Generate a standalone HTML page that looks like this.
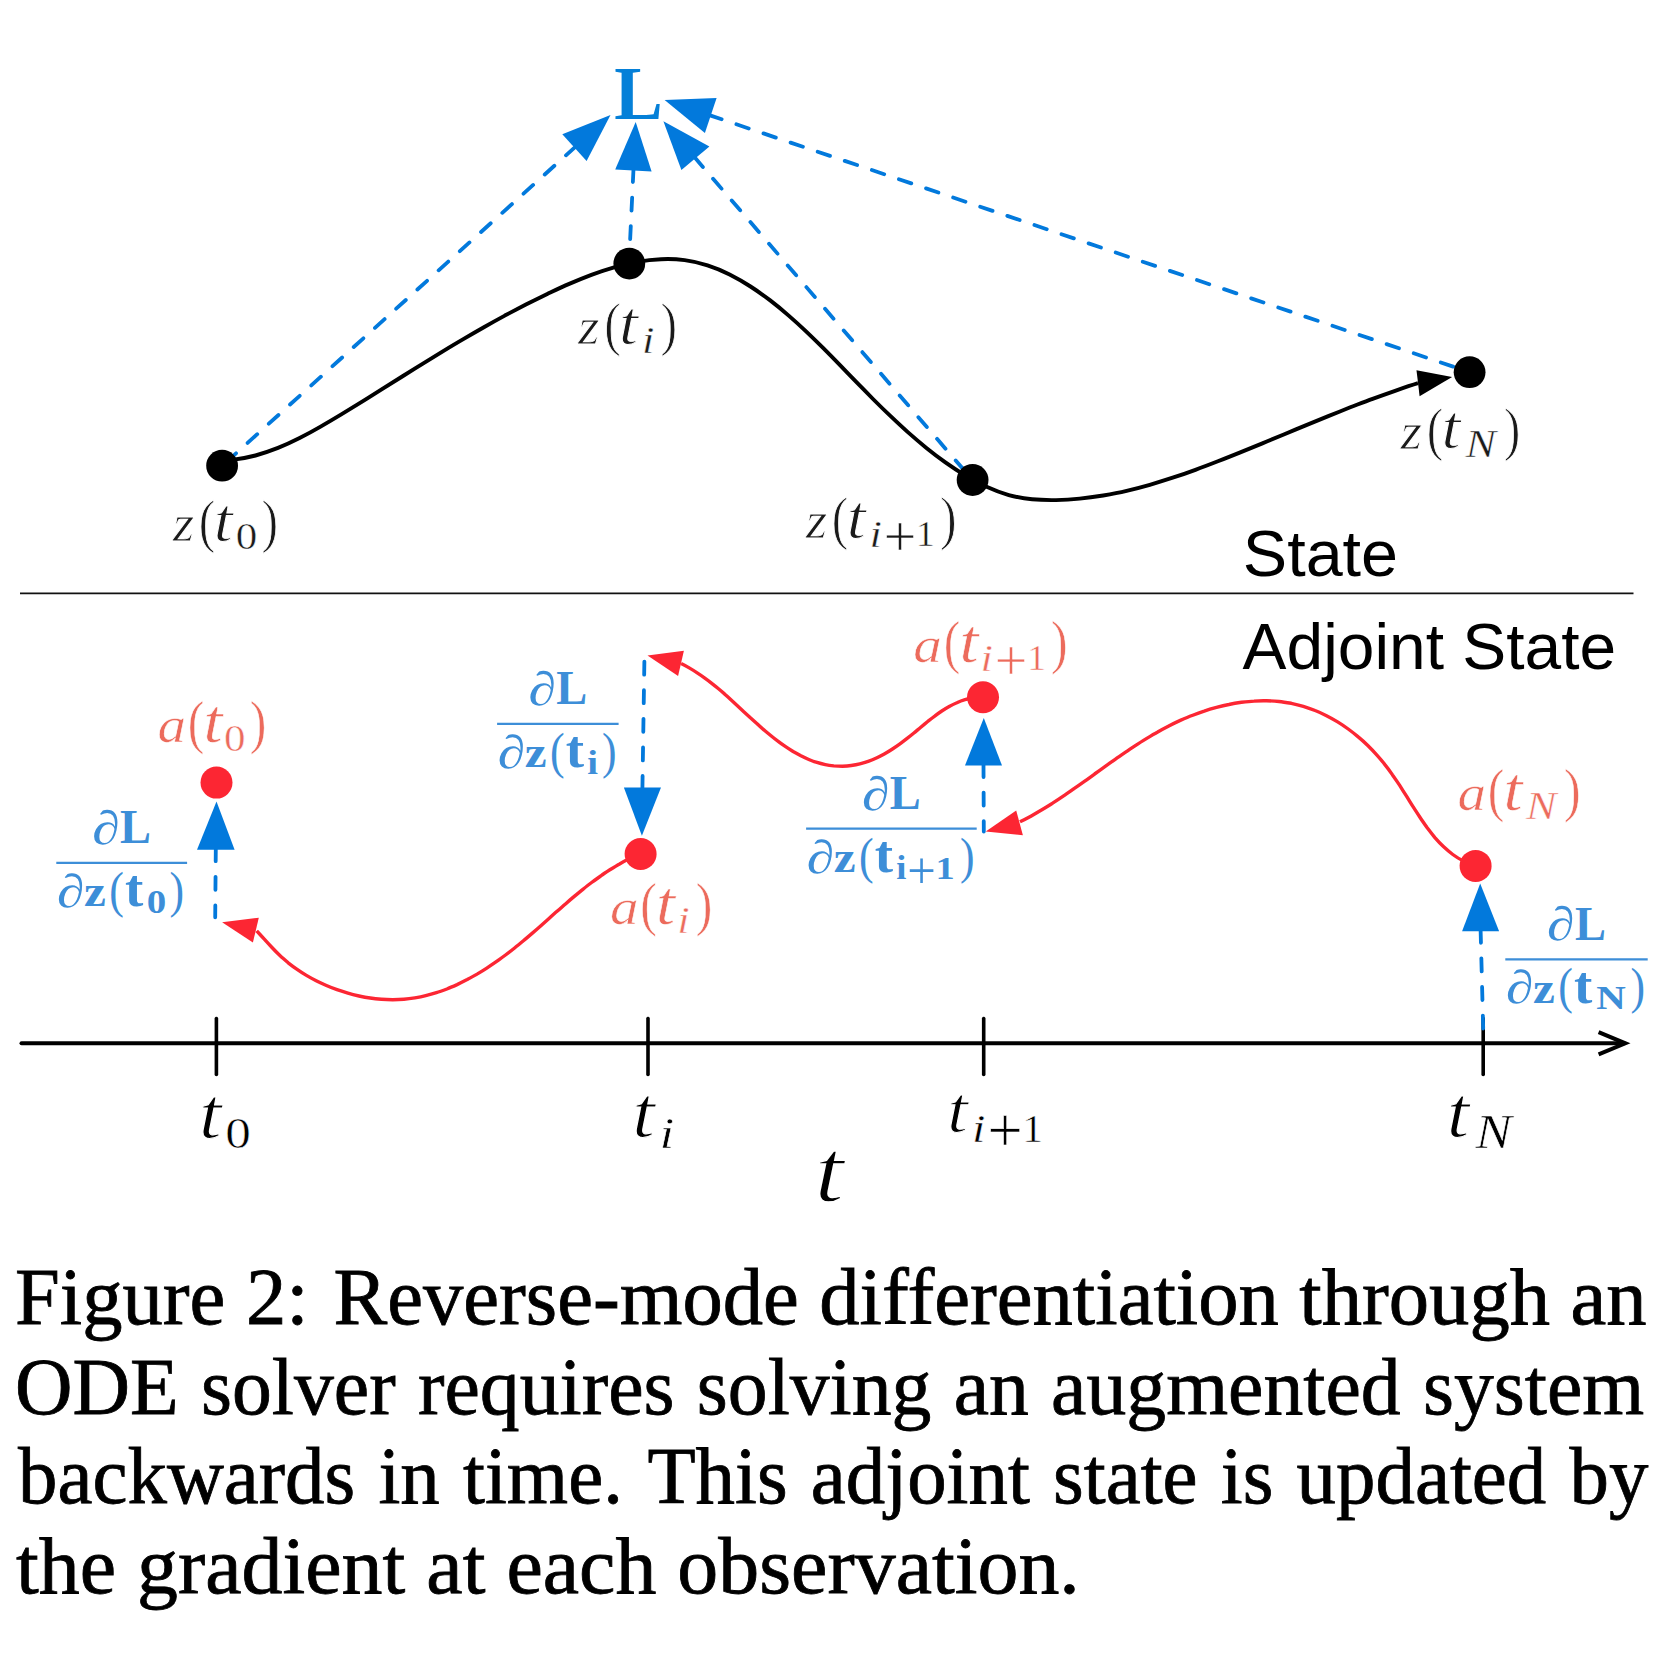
<!DOCTYPE html>
<html><head><meta charset="utf-8"><title>Figure 2</title>
<style>
html,body{margin:0;padding:0;background:#fff;}
body{width:1680px;height:1662px;position:relative;overflow:hidden;}
svg{position:absolute;left:0;top:0;}
.cap{position:absolute;font-family:"Liberation Serif",serif;font-size:81.4px;line-height:89.5px;color:#000;white-space:nowrap;height:89.5px;transform-origin:0 0;-webkit-text-stroke:0.8px #000;}
</style></head><body>
<svg width="1680" height="1662" viewBox="0 0 1680 1662">
<line x1="20" y1="593.4" x2="1633.5" y2="593.4" stroke="#111" stroke-width="1.6"/>
<line x1="575.6" y1="146.6" x2="222.0" y2="466.0" stroke="#0279DC" stroke-width="3.8" stroke-dasharray="13 15.6" stroke-linecap="round" fill="none" />
<polygon points="610.5,115.0 562.3,134.2 586.6,161.0" fill="#0279DC"/>
<line x1="633.5" y1="169.0" x2="629.0" y2="263.5" stroke="#0279DC" stroke-width="3.8" stroke-dasharray="13 15.6" stroke-linecap="round" fill="none" />
<polygon points="635.7,122.1 615.2,169.6 651.6,171.4" fill="#0279DC"/>
<line x1="694.4" y1="157.1" x2="972.5" y2="480.0" stroke="#0279DC" stroke-width="3.8" stroke-dasharray="13 15.6" stroke-linecap="round" fill="none" />
<polygon points="663.4,121.2 709.4,146.5 681.4,170.0" fill="#0279DC"/>
<line x1="709.3" y1="115.1" x2="1469.0" y2="372.0" stroke="#0279DC" stroke-width="3.8" stroke-dasharray="13 15.6" stroke-linecap="round" fill="none" />
<polygon points="664.6,100.0 716.6,98.1 704.9,133.0" fill="#0279DC"/>
<path d="M232.0,459.9 C240.0,459.0 247.9,457.5 255.5,455.5 C263.2,453.4 270.6,450.8 278.0,447.9 C285.3,445.0 292.5,441.6 299.6,438.0 C306.7,434.4 313.7,430.6 320.6,426.6 C327.6,422.6 334.5,418.5 341.3,414.4 C348.1,410.3 354.9,406.1 361.7,401.9 C368.5,397.7 375.3,393.4 382.0,389.2 C388.8,384.9 395.5,380.7 402.2,376.5 C409.0,372.2 415.7,368.0 422.5,363.8 C429.3,359.6 436.0,355.5 442.8,351.3 C449.6,347.2 456.4,343.1 463.3,339.1 C470.1,335.1 477.0,331.1 483.9,327.2 C490.8,323.3 497.8,319.4 504.8,315.6 C511.8,311.9 518.8,308.2 525.9,304.5 C533.0,300.9 540.1,297.4 547.3,293.9 C554.6,290.5 561.8,287.1 569.2,283.9 C576.5,280.7 583.9,277.6 591.4,274.8 C598.9,272.0 606.5,269.5 614.1,267.3 C621.8,265.1 629.5,263.2 637.4,261.8 C645.2,260.4 653.2,259.5 661.1,259.2 C669.0,258.8 676.8,259.1 684.6,260.1 C692.4,261.1 700.0,262.9 707.5,265.4 C715.0,267.8 722.4,270.9 729.6,274.5 C736.7,278.1 743.7,282.1 750.5,286.5 C757.3,290.9 763.9,295.6 770.2,300.4 C776.6,305.3 782.7,310.4 788.7,315.6 C794.7,320.8 800.5,326.1 806.3,331.6 C812.0,337.0 817.7,342.6 823.3,348.2 C828.9,353.8 834.5,359.5 840.0,365.2 C845.6,370.9 851.1,376.7 856.7,382.4 C862.3,388.1 867.9,393.8 873.5,399.5 C879.1,405.1 884.8,410.7 890.6,416.2 C896.4,421.7 902.2,427.2 908.1,432.4 C914.1,437.7 920.2,442.9 926.4,447.9 C932.6,452.9 938.9,457.7 945.4,462.4 C951.9,467.0 958.6,471.4 965.4,475.6 C972.3,479.7 979.4,483.5 986.6,486.8 C993.8,490.1 1001.2,492.9 1008.8,495.1 C1016.4,497.2 1024.2,498.6 1032.1,499.3 C1040.0,500.1 1048.0,500.2 1055.9,500.1 C1063.9,499.9 1071.8,499.4 1079.7,498.6 C1087.6,497.9 1095.4,496.8 1103.2,495.5 C1111.1,494.1 1118.9,492.6 1126.6,490.8 C1134.4,489.0 1142.1,487.0 1149.8,484.8 C1157.4,482.6 1165.1,480.2 1172.7,477.7 C1180.3,475.2 1187.9,472.6 1195.4,469.8 C1203.0,467.1 1210.5,464.2 1217.9,461.3 C1225.4,458.4 1232.9,455.4 1240.3,452.4 C1247.7,449.4 1255.0,446.4 1262.4,443.4 C1269.7,440.3 1277.0,437.3 1284.4,434.2 C1291.7,431.2 1299.0,428.1 1306.3,425.1 C1313.6,422.1 1320.9,419.1 1328.3,416.1 C1335.6,413.2 1343.0,410.2 1350.3,407.3 C1357.7,404.5 1365.1,401.6 1372.6,398.9 C1380.1,396.1 1387.6,393.4 1395.1,390.8 C1402.7,388.2 1410.3,385.6 1418.0,383.2" fill="none" stroke="#000" stroke-width="3.9"/>
<polygon points="1452.1,377.1 1416.5,370.3 1419.6,396.3" fill="#000"/>
<circle cx="222.1" cy="465.7" r="15.9" fill="#000"/>
<circle cx="629.3" cy="263.6" r="15.9" fill="#000"/>
<circle cx="972.6" cy="480.0" r="15.9" fill="#000"/>
<circle cx="1469.6" cy="372.2" r="15.9" fill="#000"/>
<text font-family="'Liberation Serif',serif" fill="#0580D8"><tspan x="614.23" y="118.50" font-size="76.34" font-weight="bold" textLength="48.53" lengthAdjust="spacingAndGlyphs">L</tspan></text>
<text font-family="'Liberation Serif',serif" fill="#1a1a1a" stroke="#fff" stroke-width="0.9"><tspan x="172.72" y="540.80" font-size="52.97" font-style="italic" textLength="21.59" lengthAdjust="spacingAndGlyphs">z</tspan><tspan x="198.73" y="540.94" font-size="58.15" textLength="16.55" lengthAdjust="spacingAndGlyphs">(</tspan><tspan x="213.72" y="540.79" font-size="60.79" font-style="italic" textLength="18.94" lengthAdjust="spacingAndGlyphs">t</tspan><tspan x="235.79" y="549.43" font-size="37.04" textLength="21.53" lengthAdjust="spacingAndGlyphs" stroke-width="0.45">0</tspan><tspan x="261.38" y="540.94" font-size="58.15" textLength="16.63" lengthAdjust="spacingAndGlyphs">)</tspan></text>
<text font-family="'Liberation Serif',serif" fill="#1a1a1a" stroke="#fff" stroke-width="0.9"><tspan x="578.12" y="344.30" font-size="52.97" font-style="italic" textLength="21.59" lengthAdjust="spacingAndGlyphs">z</tspan><tspan x="604.13" y="344.44" font-size="58.15" textLength="16.55" lengthAdjust="spacingAndGlyphs">(</tspan><tspan x="619.12" y="344.29" font-size="60.79" font-style="italic" textLength="18.94" lengthAdjust="spacingAndGlyphs">t</tspan><tspan x="641.99" y="353.10" font-size="37.74" font-style="italic" textLength="12.37" lengthAdjust="spacingAndGlyphs" stroke-width="0.45">i</tspan><tspan x="660.38" y="344.44" font-size="58.15" textLength="16.63" lengthAdjust="spacingAndGlyphs">)</tspan></text>
<text font-family="'Liberation Serif',serif" fill="#1a1a1a" stroke="#fff" stroke-width="0.9"><tspan x="805.72" y="537.80" font-size="52.97" font-style="italic" textLength="21.59" lengthAdjust="spacingAndGlyphs">z</tspan><tspan x="831.73" y="537.94" font-size="58.15" textLength="16.55" lengthAdjust="spacingAndGlyphs">(</tspan><tspan x="846.72" y="537.79" font-size="60.79" font-style="italic" textLength="18.94" lengthAdjust="spacingAndGlyphs">t</tspan><tspan x="869.44" y="546.60" font-size="37.74" font-style="italic" textLength="12.37" lengthAdjust="spacingAndGlyphs" stroke-width="0.45">i</tspan><tspan x="883.72" y="555.96" font-size="57.63" textLength="32.50" lengthAdjust="spacingAndGlyphs" stroke-width="0.45">+</tspan><tspan x="915.85" y="546.10" font-size="36.82" textLength="19.15" lengthAdjust="spacingAndGlyphs" stroke-width="0.45">1</tspan><tspan x="939.98" y="537.94" font-size="58.15" textLength="16.63" lengthAdjust="spacingAndGlyphs">)</tspan></text>
<text font-family="'Liberation Serif',serif" fill="#1a1a1a" stroke="#fff" stroke-width="0.9"><tspan x="1400.62" y="448.50" font-size="52.97" font-style="italic" textLength="21.59" lengthAdjust="spacingAndGlyphs">z</tspan><tspan x="1426.63" y="448.64" font-size="58.15" textLength="16.55" lengthAdjust="spacingAndGlyphs">(</tspan><tspan x="1441.62" y="448.49" font-size="60.79" font-style="italic" textLength="18.94" lengthAdjust="spacingAndGlyphs">t</tspan><tspan x="1465.64" y="457.40" font-size="40.46" font-style="italic" textLength="30.43" lengthAdjust="spacingAndGlyphs" stroke-width="0.45">N</tspan><tspan x="1503.68" y="448.64" font-size="58.15" textLength="16.63" lengthAdjust="spacingAndGlyphs">)</tspan></text>
<text font-family="'Liberation Serif',serif" fill="#EC6B5C" stroke="#fff" stroke-width="0.55"><tspan x="157.59" y="741.98" font-size="51.53" font-style="italic" textLength="28.55" lengthAdjust="spacingAndGlyphs">a</tspan><tspan x="187.83" y="742.14" font-size="58.15" textLength="16.55" lengthAdjust="spacingAndGlyphs">(</tspan><tspan x="203.62" y="741.99" font-size="60.79" font-style="italic" textLength="18.94" lengthAdjust="spacingAndGlyphs">t</tspan><tspan x="224.09" y="750.63" font-size="37.04" textLength="21.53" lengthAdjust="spacingAndGlyphs" stroke-width="0.45">0</tspan><tspan x="249.68" y="742.14" font-size="58.15" textLength="16.63" lengthAdjust="spacingAndGlyphs">)</tspan></text>
<text font-family="'Liberation Serif',serif" fill="#EC6B5C" stroke="#fff" stroke-width="0.55"><tspan x="609.99" y="924.18" font-size="51.53" font-style="italic" textLength="28.55" lengthAdjust="spacingAndGlyphs">a</tspan><tspan x="640.23" y="924.34" font-size="58.15" textLength="16.55" lengthAdjust="spacingAndGlyphs">(</tspan><tspan x="656.02" y="924.19" font-size="60.79" font-style="italic" textLength="18.94" lengthAdjust="spacingAndGlyphs">t</tspan><tspan x="677.29" y="933.00" font-size="37.74" font-style="italic" textLength="12.37" lengthAdjust="spacingAndGlyphs" stroke-width="0.45">i</tspan><tspan x="695.68" y="924.34" font-size="58.15" textLength="16.63" lengthAdjust="spacingAndGlyphs">)</tspan></text>
<text font-family="'Liberation Serif',serif" fill="#EC6B5C" stroke="#fff" stroke-width="0.55"><tspan x="913.39" y="661.98" font-size="51.53" font-style="italic" textLength="28.55" lengthAdjust="spacingAndGlyphs">a</tspan><tspan x="943.63" y="662.14" font-size="58.15" textLength="16.55" lengthAdjust="spacingAndGlyphs">(</tspan><tspan x="959.42" y="661.99" font-size="60.79" font-style="italic" textLength="18.94" lengthAdjust="spacingAndGlyphs">t</tspan><tspan x="980.54" y="670.80" font-size="37.74" font-style="italic" textLength="12.37" lengthAdjust="spacingAndGlyphs" stroke-width="0.45">i</tspan><tspan x="994.82" y="680.16" font-size="57.63" textLength="32.50" lengthAdjust="spacingAndGlyphs" stroke-width="0.45">+</tspan><tspan x="1026.95" y="670.30" font-size="36.82" textLength="19.15" lengthAdjust="spacingAndGlyphs" stroke-width="0.45">1</tspan><tspan x="1051.08" y="662.14" font-size="58.15" textLength="16.63" lengthAdjust="spacingAndGlyphs">)</tspan></text>
<text font-family="'Liberation Serif',serif" fill="#EC6B5C" stroke="#fff" stroke-width="0.55"><tspan x="1457.49" y="809.98" font-size="51.53" font-style="italic" textLength="28.55" lengthAdjust="spacingAndGlyphs">a</tspan><tspan x="1487.73" y="810.14" font-size="58.15" textLength="16.55" lengthAdjust="spacingAndGlyphs">(</tspan><tspan x="1503.52" y="809.99" font-size="60.79" font-style="italic" textLength="18.94" lengthAdjust="spacingAndGlyphs">t</tspan><tspan x="1525.94" y="818.90" font-size="40.46" font-style="italic" textLength="30.43" lengthAdjust="spacingAndGlyphs" stroke-width="0.45">N</tspan><tspan x="1563.98" y="810.14" font-size="58.15" textLength="16.63" lengthAdjust="spacingAndGlyphs">)</tspan></text>
<text x="1242.8" y="576" font-family="'Liberation Sans',sans-serif" font-size="65.5" fill="#000" textLength="155.3" lengthAdjust="spacingAndGlyphs">State</text>
<text x="1242.6" y="668.6" font-family="'Liberation Sans',sans-serif" font-size="65.5" fill="#000" textLength="373.5" lengthAdjust="spacingAndGlyphs">Adjoint State</text>
<path d="M640.0,853.8 C636.4,855.3 633.0,856.9 629.6,858.6 C626.2,860.3 622.8,862.1 619.6,864.0 C616.3,865.8 613.1,867.8 609.9,869.8 C606.8,871.8 603.7,873.8 600.7,876.0 C597.6,878.1 594.6,880.3 591.6,882.5 C588.7,884.7 585.8,887.0 582.9,889.3 C580.0,891.7 577.1,894.0 574.3,896.4 C571.4,898.8 568.6,901.2 565.8,903.7 C563.0,906.1 560.2,908.6 557.4,911.1 C554.6,913.5 551.8,916.0 549.0,918.5 C546.2,921.0 543.4,923.5 540.6,926.0 C537.8,928.5 534.9,931.0 532.1,933.4 C529.2,935.9 526.3,938.4 523.4,940.8 C520.5,943.2 517.6,945.6 514.6,948.0 C511.6,950.4 508.6,952.7 505.5,955.0 C502.5,957.3 499.4,959.5 496.3,961.7 C493.1,963.9 490.0,966.0 486.8,968.1 C483.6,970.2 480.4,972.1 477.1,974.1 C473.8,976.0 470.5,977.8 467.2,979.6 C463.9,981.3 460.5,983.0 457.1,984.6 C453.7,986.1 450.3,987.6 446.9,989.0 C443.4,990.3 439.9,991.6 436.4,992.7 C432.9,993.8 429.3,994.8 425.7,995.7 C422.2,996.6 418.6,997.3 414.9,997.9 C411.3,998.5 407.6,999.0 403.9,999.3 C400.2,999.6 396.5,999.7 392.7,999.7 C389.0,999.7 385.2,999.6 381.5,999.3 C377.7,999.0 373.9,998.6 370.2,998.0 C366.4,997.5 362.7,996.8 359.0,996.0 C355.2,995.2 351.5,994.3 347.9,993.2 C344.2,992.1 340.6,991.0 337.0,989.7 C333.4,988.4 329.9,987.0 326.4,985.5 C322.9,984.0 319.5,982.5 316.2,980.8 C312.9,979.1 309.6,977.3 306.4,975.4 C303.2,973.5 300.1,971.5 297.1,969.4 C294.1,967.3 291.1,965.1 288.2,962.8 C285.4,960.4 282.6,958.0 279.9,955.5 C277.2,952.9 274.5,950.2 272.0,947.5 C269.4,944.8 266.8,942.0 264.3,939.2 C261.8,936.4 259.2,933.6 256.7,930.8" fill="none" stroke="#FC2633" stroke-width="3.4"/>
<polygon points="222.1,922.3 258.8,917.7 252.9,942.6" fill="#FC2633"/>
<path d="M982.9,697.0 C979.7,697.0 976.6,697.3 973.6,697.8 C970.7,698.2 967.8,698.9 965.0,699.7 C962.2,700.5 959.5,701.5 956.9,702.7 C954.2,703.8 951.7,705.1 949.2,706.5 C946.7,707.9 944.2,709.4 941.8,711.0 C939.4,712.6 937.0,714.3 934.7,716.1 C932.4,717.8 930.0,719.7 927.7,721.5 C925.4,723.4 923.1,725.3 920.8,727.2 C918.5,729.1 916.2,731.1 913.9,733.0 C911.6,734.9 909.2,736.8 906.8,738.7 C904.5,740.6 902.0,742.4 899.6,744.2 C897.1,746.0 894.6,747.7 892.1,749.3 C889.5,751.0 887.0,752.5 884.3,754.0 C881.7,755.4 879.1,756.8 876.4,758.0 C873.7,759.3 871.0,760.4 868.2,761.4 C865.4,762.4 862.6,763.2 859.8,763.9 C856.9,764.6 854.0,765.1 851.2,765.5 C848.3,765.9 845.4,766.1 842.5,766.2 C839.6,766.2 836.7,766.1 833.8,765.9 C830.9,765.6 828.1,765.2 825.3,764.6 C822.5,764.0 819.7,763.3 817.0,762.4 C814.2,761.6 811.5,760.6 808.8,759.5 C806.2,758.4 803.5,757.1 800.9,755.8 C798.3,754.4 795.7,753.0 793.1,751.5 C790.6,749.9 788.1,748.3 785.6,746.6 C783.1,744.9 780.6,743.2 778.2,741.3 C775.7,739.5 773.3,737.6 771.0,735.7 C768.6,733.8 766.2,731.8 763.9,729.9 C761.6,727.9 759.3,725.9 757.1,723.8 C754.8,721.8 752.6,719.8 750.4,717.8 C748.2,715.7 746.0,713.7 743.8,711.7 C741.7,709.7 739.5,707.7 737.4,705.7 C735.2,703.7 733.1,701.7 730.9,699.7 C728.8,697.8 726.6,695.8 724.5,693.9 C722.3,692.0 720.1,690.1 717.9,688.3 C715.7,686.4 713.4,684.6 711.1,682.8 C708.8,681.0 706.5,679.3 704.1,677.6 C701.8,675.9 699.3,674.2 696.8,672.6 C694.4,671.0 691.8,669.4 689.2,667.9 C686.6,666.4 683.9,665.0 681.1,663.6" fill="none" stroke="#FC2633" stroke-width="3.4"/>
<polygon points="647.5,655.4 683.9,650.7 678.1,676.0" fill="#FC2633"/>
<path d="M1475.7,865.9 C1471.4,864.6 1467.3,863.0 1463.5,861.1 C1459.7,859.2 1456.2,857.0 1452.8,854.5 C1449.5,852.1 1446.4,849.4 1443.4,846.6 C1440.4,843.7 1437.6,840.7 1434.9,837.6 C1432.3,834.4 1429.7,831.1 1427.2,827.8 C1424.8,824.4 1422.4,821.0 1420.1,817.5 C1417.8,814.0 1415.5,810.5 1413.2,806.9 C1411.0,803.3 1408.7,799.8 1406.5,796.2 C1404.2,792.6 1402.0,789.0 1399.7,785.4 C1397.3,781.9 1395.0,778.3 1392.5,774.9 C1390.1,771.4 1387.6,767.9 1384.9,764.6 C1382.3,761.2 1379.6,758.0 1376.7,754.8 C1373.8,751.6 1370.8,748.5 1367.8,745.5 C1364.7,742.5 1361.5,739.6 1358.2,736.9 C1355.0,734.1 1351.6,731.5 1348.2,729.0 C1344.7,726.5 1341.2,724.1 1337.6,721.9 C1334.0,719.7 1330.3,717.6 1326.5,715.7 C1322.8,713.8 1319.0,712.0 1315.1,710.5 C1311.2,708.9 1307.3,707.5 1303.3,706.3 C1299.4,705.1 1295.3,704.1 1291.3,703.3 C1287.2,702.6 1283.1,701.9 1279.0,701.5 C1274.9,701.1 1270.7,700.9 1266.6,700.8 C1262.4,700.7 1258.2,700.8 1254.0,701.1 C1249.8,701.3 1245.6,701.8 1241.5,702.3 C1237.3,702.9 1233.1,703.6 1228.9,704.5 C1224.7,705.3 1220.6,706.3 1216.5,707.4 C1212.3,708.5 1208.2,709.7 1204.2,711.1 C1200.1,712.4 1196.1,713.9 1192.1,715.5 C1188.1,717.0 1184.2,718.7 1180.3,720.4 C1176.4,722.2 1172.6,724.0 1168.8,726.0 C1165.1,727.9 1161.3,729.9 1157.7,732.0 C1154.0,734.0 1150.4,736.2 1146.8,738.4 C1143.2,740.6 1139.6,742.8 1136.1,745.1 C1132.6,747.4 1129.1,749.7 1125.6,752.1 C1122.1,754.5 1118.6,756.9 1115.2,759.3 C1111.8,761.7 1108.3,764.2 1104.9,766.6 C1101.5,769.1 1098.0,771.6 1094.6,774.0 C1091.2,776.5 1087.8,779.0 1084.4,781.4 C1080.9,783.9 1077.5,786.3 1074.0,788.7 C1070.6,791.2 1067.1,793.5 1063.6,795.9 C1060.1,798.3 1056.6,800.6 1053.0,802.9 C1049.5,805.1 1045.9,807.4 1042.3,809.5 C1038.6,811.7 1035.0,813.8 1031.3,815.9 C1027.6,817.9 1023.8,819.9 1020.0,821.8" fill="none" stroke="#FC2633" stroke-width="3.4"/>
<polygon points="985.7,831.4 1016.2,810.5 1022.9,835.2" fill="#FC2633"/>
<text font-family="'Liberation Serif',serif" fill="#3D8ED8"><tspan x="92.28" y="843.95" font-size="47.48" font-style="italic" textLength="27.69" lengthAdjust="spacingAndGlyphs">∂</tspan><tspan x="120.09" y="843.30" font-size="48.40" font-weight="bold" textLength="30.96" lengthAdjust="spacingAndGlyphs">L</tspan></text>
<line x1="56.3" y1="862.9" x2="187.1" y2="862.9" stroke="#3D8ED8" stroke-width="2.2"/>
<text font-family="'Liberation Serif',serif" fill="#3D8ED8"><tspan x="56.93" y="906.85" font-size="46.94" font-style="italic" textLength="27.37" lengthAdjust="spacingAndGlyphs">∂</tspan><tspan x="83.91" y="906.30" font-size="44.03" font-weight="bold" textLength="21.90" lengthAdjust="spacingAndGlyphs">z</tspan><tspan x="109.28" y="906.97" font-size="51.42" textLength="14.61" lengthAdjust="spacingAndGlyphs">(</tspan><tspan x="125.01" y="906.17" font-size="52.58" font-weight="bold" textLength="18.33" lengthAdjust="spacingAndGlyphs">t</tspan><tspan x="146.85" y="912.97" font-size="33.04" font-weight="bold" textLength="19.49" lengthAdjust="spacingAndGlyphs">0</tspan><tspan x="169.48" y="906.97" font-size="51.42" textLength="14.55" lengthAdjust="spacingAndGlyphs">)</tspan></text>
<text font-family="'Liberation Serif',serif" fill="#3D8ED8"><tspan x="528.43" y="704.85" font-size="47.48" font-style="italic" textLength="27.69" lengthAdjust="spacingAndGlyphs">∂</tspan><tspan x="556.24" y="704.20" font-size="48.40" font-weight="bold" textLength="30.96" lengthAdjust="spacingAndGlyphs">L</tspan></text>
<line x1="497.1" y1="723.8" x2="618.6" y2="723.8" stroke="#3D8ED8" stroke-width="2.2"/>
<text font-family="'Liberation Serif',serif" fill="#3D8ED8"><tspan x="497.73" y="767.75" font-size="46.94" font-style="italic" textLength="27.37" lengthAdjust="spacingAndGlyphs">∂</tspan><tspan x="524.71" y="767.20" font-size="44.03" font-weight="bold" textLength="21.90" lengthAdjust="spacingAndGlyphs">z</tspan><tspan x="550.08" y="767.87" font-size="51.42" textLength="14.61" lengthAdjust="spacingAndGlyphs">(</tspan><tspan x="565.81" y="767.07" font-size="52.58" font-weight="bold" textLength="18.33" lengthAdjust="spacingAndGlyphs">t</tspan><tspan x="587.15" y="774.20" font-size="32.86" font-weight="bold" textLength="10.77" lengthAdjust="spacingAndGlyphs">i</tspan><tspan x="601.88" y="767.87" font-size="51.42" textLength="14.55" lengthAdjust="spacingAndGlyphs">)</tspan></text>
<text font-family="'Liberation Serif',serif" fill="#3D8ED8"><tspan x="861.98" y="809.65" font-size="47.48" font-style="italic" textLength="27.69" lengthAdjust="spacingAndGlyphs">∂</tspan><tspan x="889.79" y="809.00" font-size="48.40" font-weight="bold" textLength="30.96" lengthAdjust="spacingAndGlyphs">L</tspan></text>
<line x1="806.1" y1="828.6" x2="976.7" y2="828.6" stroke="#3D8ED8" stroke-width="2.2"/>
<text font-family="'Liberation Serif',serif" fill="#3D8ED8"><tspan x="806.73" y="872.55" font-size="46.94" font-style="italic" textLength="27.37" lengthAdjust="spacingAndGlyphs">∂</tspan><tspan x="833.71" y="872.00" font-size="44.03" font-weight="bold" textLength="21.90" lengthAdjust="spacingAndGlyphs">z</tspan><tspan x="859.08" y="872.67" font-size="51.42" textLength="14.61" lengthAdjust="spacingAndGlyphs">(</tspan><tspan x="874.81" y="871.87" font-size="52.58" font-weight="bold" textLength="18.33" lengthAdjust="spacingAndGlyphs">t</tspan><tspan x="896.18" y="879.00" font-size="32.86" font-weight="bold" textLength="10.13" lengthAdjust="spacingAndGlyphs">i</tspan><tspan x="907.16" y="888.23" font-size="53.33" textLength="28.62" lengthAdjust="spacingAndGlyphs">+</tspan><tspan x="935.59" y="879.00" font-size="32.58" font-weight="bold" textLength="19.22" lengthAdjust="spacingAndGlyphs">1</tspan><tspan x="959.98" y="872.67" font-size="51.42" textLength="14.55" lengthAdjust="spacingAndGlyphs">)</tspan></text>
<text font-family="'Liberation Serif',serif" fill="#3D8ED8"><tspan x="1547.08" y="940.35" font-size="47.48" font-style="italic" textLength="27.69" lengthAdjust="spacingAndGlyphs">∂</tspan><tspan x="1574.89" y="939.70" font-size="48.40" font-weight="bold" textLength="30.96" lengthAdjust="spacingAndGlyphs">L</tspan></text>
<line x1="1505.3" y1="959.3" x2="1647.7" y2="959.3" stroke="#3D8ED8" stroke-width="2.2"/>
<text font-family="'Liberation Serif',serif" fill="#3D8ED8"><tspan x="1505.93" y="1003.25" font-size="46.94" font-style="italic" textLength="27.37" lengthAdjust="spacingAndGlyphs">∂</tspan><tspan x="1532.91" y="1002.70" font-size="44.03" font-weight="bold" textLength="21.90" lengthAdjust="spacingAndGlyphs">z</tspan><tspan x="1558.28" y="1003.37" font-size="51.42" textLength="14.61" lengthAdjust="spacingAndGlyphs">(</tspan><tspan x="1574.01" y="1002.57" font-size="52.58" font-weight="bold" textLength="18.33" lengthAdjust="spacingAndGlyphs">t</tspan><tspan x="1596.27" y="1009.10" font-size="34.66" font-weight="bold" textLength="29.53" lengthAdjust="spacingAndGlyphs">N</tspan><tspan x="1630.58" y="1003.37" font-size="51.42" textLength="14.55" lengthAdjust="spacingAndGlyphs">)</tspan></text>
<line x1="21.5" y1="1043.3" x2="1624" y2="1043.3" stroke="#000" stroke-width="4" stroke-linecap="round"/>
<polyline points="1598.6,1032.2 1625.3,1043.3 1598.6,1054.4" fill="none" stroke="#000" stroke-width="4" stroke-linejoin="miter" stroke-miterlimit="10"/>
<line x1="216.4" y1="1018.5" x2="216.4" y2="1074.5" stroke="#000" stroke-width="3.6" stroke-linecap="round"/>
<line x1="648.0" y1="1018.5" x2="648.0" y2="1074.5" stroke="#000" stroke-width="3.6" stroke-linecap="round"/>
<line x1="983.7" y1="1018.5" x2="983.7" y2="1074.5" stroke="#000" stroke-width="3.6" stroke-linecap="round"/>
<line x1="1483.2" y1="1018.5" x2="1483.2" y2="1074.5" stroke="#000" stroke-width="3.6" stroke-linecap="round"/>
<line x1="215.8" y1="848.2" x2="215.2" y2="917.3" stroke="#0279DC" stroke-width="3.8" stroke-dasharray="13 15.6" stroke-linecap="round" fill="none" />
<polygon points="216.5,801.6 197.0,849.7 234.6,849.7" fill="#0279DC"/>
<line x1="642.4" y1="789.0" x2="644.4" y2="660.0" stroke="#0279DC" stroke-width="3.8" stroke-dasharray="13 15.6" stroke-linecap="round" fill="none" />
<polygon points="641.9,835.7 623.9,787.5 661.0,787.5" fill="#0279DC"/>
<line x1="983.5" y1="764.0" x2="983.8" y2="831.6" stroke="#0279DC" stroke-width="3.8" stroke-dasharray="13 15.6" stroke-linecap="round" fill="none" />
<polygon points="983.8,718.0 965.0,765.5 1002.0,765.5" fill="#0279DC"/>
<line x1="1480.6" y1="929.8" x2="1483.2" y2="1028.9" stroke="#0279DC" stroke-width="3.8" stroke-dasharray="13 15.6" stroke-linecap="round" fill="none" />
<polygon points="1480.2,883.5 1462.1,931.3 1499.1,931.3" fill="#0279DC"/>
<circle cx="216.5" cy="782.6" r="16" fill="#FC2633"/>
<circle cx="640.6" cy="854.0" r="16" fill="#FC2633"/>
<circle cx="983.0" cy="697.2" r="16" fill="#FC2633"/>
<circle cx="1475.6" cy="865.9" r="16" fill="#FC2633"/>
<text font-family="'Liberation Serif',serif" fill="#000" stroke="#fff" stroke-width="1.07"><tspan x="198.95" y="1137.99" font-size="72.29" font-style="italic" textLength="22.53" lengthAdjust="spacingAndGlyphs">t</tspan><tspan x="225.31" y="1148.26" font-size="44.04" textLength="25.60" lengthAdjust="spacingAndGlyphs" stroke-width="0.54">0</tspan></text>
<text font-family="'Liberation Serif',serif" fill="#000" stroke="#fff" stroke-width="1.07"><tspan x="632.15" y="1137.29" font-size="72.29" font-style="italic" textLength="22.53" lengthAdjust="spacingAndGlyphs">t</tspan><tspan x="659.47" y="1147.76" font-size="44.88" font-style="italic" textLength="14.71" lengthAdjust="spacingAndGlyphs" stroke-width="0.54">i</tspan></text>
<text font-family="'Liberation Serif',serif" fill="#000" stroke="#fff" stroke-width="0.98"><tspan x="947.16" y="1132.49" font-size="65.95" font-style="italic" textLength="20.55" lengthAdjust="spacingAndGlyphs">t</tspan><tspan x="971.92" y="1142.05" font-size="40.94" font-style="italic" textLength="13.42" lengthAdjust="spacingAndGlyphs" stroke-width="0.49">i</tspan><tspan x="987.42" y="1152.21" font-size="62.53" textLength="35.27" lengthAdjust="spacingAndGlyphs" stroke-width="0.49">+</tspan><tspan x="1022.28" y="1141.51" font-size="39.95" textLength="20.78" lengthAdjust="spacingAndGlyphs" stroke-width="0.49">1</tspan></text>
<text font-family="'Liberation Serif',serif" fill="#000" stroke="#fff" stroke-width="1.07"><tspan x="1446.85" y="1136.99" font-size="72.29" font-style="italic" textLength="22.53" lengthAdjust="spacingAndGlyphs">t</tspan><tspan x="1475.54" y="1147.58" font-size="48.11" font-style="italic" textLength="36.18" lengthAdjust="spacingAndGlyphs" stroke-width="0.54">N</tspan></text>
<text font-family="'Liberation Serif',serif" fill="#000" stroke="#fff" stroke-width="1.4"><tspan x="814.48" y="1201.11" font-size="89.26" font-style="italic" textLength="29.26" lengthAdjust="spacingAndGlyphs">t</tspan></text>
</svg>
<div class="cap" style="top:1251.8px;left:15.4px;transform:scaleX(0.99);word-spacing:0.41px">Figure 2:<span style="margin-left:4.3px"> </span>Reverse-mode differentiation through an</div>
<div class="cap" style="top:1341.5px;left:15.0px;transform:scaleX(0.979);word-spacing:2.35px">ODE solver requires solving an augmented system</div>
<div class="cap" style="top:1431.1px;left:18.3px;transform:scaleX(0.969);word-spacing:3.6px">backwards in time.<span style="margin-left:2.8px"> </span>This adjoint state is updated by</div>
<div class="cap" style="top:1520.6px;left:16.3px;transform:scaleX(1.006);word-spacing:0.53px">the gradient at each observation.</div>
</body></html>
